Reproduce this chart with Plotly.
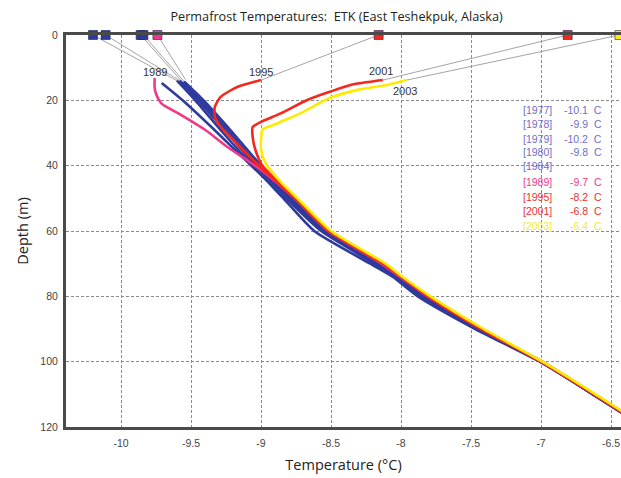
import plotly.graph_objects as go

# Borehole temperature profiles, ETK (East Teshekpuk, Alaska)
years = ["1977", "1978", "1979", "1980", "1984", "1989", "1995", "2001", "2003"]
surface_temp = [-10.11, -9.86, -10.20, -9.84, None, -9.74, -8.16, -6.81, -6.44]
year_colors = ["#2f3a9e", "#2f3a9e", "#2f3a9e", "#2f3a9e", "#2f3a9e",
               "#f0378c", "#f5281e", "#f5281e", "#ffea00"]
text_colors = ["#6f6fc8", "#6f6fc8", "#6f6fc8", "#6f6fc8", "#6f6fc8",
               "#ee3a8c", "#ee3030", "#ee3030", "#f2ea3a"]

# end points of the thin leader lines drawn from each surface marker
leader_temp = [-9.58, -9.56, -9.60, -9.55, None, -9.54, -9.00, -8.13, -7.96]
leader_depth = [14.0, 14.5, 14.0, 14.2, None, 13.6, 13.8, 13.8, 13.8]

depth_1977 = [14.0, 20, 30, 40, 50, 60, 70, 74, 80, 90, 100, 110, 116]
temp_1977 = [-9.58, -9.45, -9.24, -9.04, -8.80, -8.56, -8.18, -8.04, -7.86, -7.45, -7.00, -6.63, -6.41]

depth_1978 = [14.5, 20, 30, 40, 50, 60, 70, 74, 80, 90, 100, 110, 116]
temp_1978 = [-9.56, -9.43, -9.22, -9.02, -8.79, -8.55, -8.17, -8.03, -7.85, -7.44, -7.00, -6.62, -6.40]

depth_1979 = [14.0, 20, 30, 40, 50, 60, 70, 74, 80, 90, 100, 110, 116]
temp_1979 = [-9.60, -9.47, -9.27, -9.06, -8.84, -8.62, -8.22, -8.06, -7.88, -7.47, -7.01, -6.63, -6.41]

depth_1980 = [14.2, 20, 30, 40, 50, 60, 70, 74, 80, 90, 100, 110, 116]
temp_1980 = [-9.55, -9.41, -9.20, -9.00, -8.78, -8.54, -8.16, -8.02, -7.84, -7.44, -6.99, -6.62, -6.40]

depth_1984 = [14.7, 20, 30, 40, 50, 60, 70, 74, 80, 90, 100, 110, 116]
temp_1984 = [-9.71, -9.56, -9.31, -9.07, -8.82, -8.57, -8.19, -8.05, -7.87, -7.46, -7.00, -6.63, -6.41]

depth_1989 = [13.2, 16, 18, 21, 24, 29, 34.6, 38.3, 42, 50, 60, 70, 74, 80, 90, 100, 110, 116]
temp_1989 = [-9.76, -9.76, -9.75, -9.71, -9.59, -9.40, -9.23, -9.10, -8.98, -8.76, -8.52, -8.14, -8.01, -7.81, -7.42, -7.00, -6.62, -6.40]

depth_1995 = [13.8, 15.9, 19, 22, 25, 28, 32, 37.3, 41, 50, 60, 70, 74, 80, 90, 100, 110, 116]
temp_1995 = [-9.00, -9.17, -9.29, -9.33, -9.33, -9.29, -9.20, -9.08, -8.99, -8.76, -8.52, -8.13, -8.00, -7.81, -7.43, -7.00, -6.62, -6.40]

depth_2001 = [13.8, 15.3, 17.4, 19.9, 24, 26.6, 28.2, 31.2, 35.2, 40, 50, 60, 70, 74, 80, 90, 100, 110, 116]
temp_2001 = [-8.13, -8.36, -8.51, -8.67, -8.86, -9.00, -9.06, -9.06, -9.04, -8.99, -8.75, -8.51, -8.12, -8.00, -7.80, -7.42, -7.00, -6.62, -6.40]

depth_2003 = [13.8, 15.3, 16.8, 19.3, 24, 27.5, 29, 32, 35.2, 39, 45, 50, 60, 70, 74, 80, 90, 100, 110, 116]
temp_2003 = [-7.96, -8.10, -8.31, -8.51, -8.72, -8.91, -8.99, -9.00, -9.00, -8.97, -8.86, -8.74, -8.50, -8.11, -7.99, -7.79, -7.41, -6.99, -6.61, -6.39]

depths = [depth_1977, depth_1978, depth_1979, depth_1980, depth_1984,
          depth_1989, depth_1995, depth_2001, depth_2003]
temps = [temp_1977, temp_1978, temp_1979, temp_1980, temp_1984,
         temp_1989, temp_1995, temp_2001, temp_2003]

# year labels placed next to the top of selected profiles
label_years = ["1989", "1995", "2001", "2003"]
label_temp = [-9.76, -9.00, -8.14, -7.97]
label_depth = [11.3, 11.3, 11.0, 17.0]

x_ticks = [-10, -9.5, -9, -8.5, -8, -7.5, -7, -6.5]
y_ticks = [0, 20, 40, 60, 80, 100, 120]

fig = go.Figure()

# thin leader lines from each surface temperature marker
lead_x, lead_y = [], []
for ts, lt, ld in zip(surface_temp, leader_temp, leader_depth):
    if ts is None:
        continue
    lead_x += [ts, lt, None]
    lead_y += [0, ld, None]
fig.add_trace(go.Scatter(x=lead_x, y=lead_y, mode="lines",
                         line=dict(color="#9a9a9a", width=0.9),
                         hoverinfo="skip", showlegend=False))

# profiles, drawn oldest first so later years sit on top
for yr, d, t, c in zip(years, depths, temps, year_colors):
    fig.add_trace(go.Scatter(x=t, y=d, mode="lines", name=yr,
                             line=dict(color=c, width=2.6, shape="spline", smoothing=0.6),
                             showlegend=False))

# surface temperature markers along depth 0
sx = [ts for ts in surface_temp if ts is not None]
sc = [c for ts, c in zip(surface_temp, year_colors) if ts is not None]
fig.add_trace(go.Scatter(x=sx, y=[0] * len(sx), mode="markers", cliponaxis=False,
                         marker=dict(symbol="square", size=9, color=sc,
                                     line=dict(color="#20205a", width=0.6)),
                         showlegend=False))

for txt, tx, dy in zip(label_years, label_temp, label_depth):
    fig.add_annotation(x=tx, y=dy, text=txt, showarrow=False,
                       font=dict(family="Liberation Sans", size=11, color="#333333"))

# key listing year and surface temperature
row_depth = [23.0, 27.3, 31.7, 35.8, 40.2, 45.1, 49.6, 54.0, 58.4]
for yr, ts, c, dy in zip(years, surface_temp, text_colors, row_depth):
    fig.add_annotation(x=-7.143, y=dy, text=f"[{yr}]", showarrow=False, xanchor="left",
                       font=dict(family="Liberation Sans", size=10.5, color=c))
    if ts is not None:
        fig.add_annotation(x=-6.55, y=dy, text=f"{ts:.1f}  C", showarrow=False, xanchor="right",
                           font=dict(family="Liberation Sans", size=10.5, color=c))

grid = dict(showgrid=True, gridcolor="#8a8a8a", gridwidth=1, griddash="3px,2px")

fig.update_layout(
    width=621, height=478,
    margin=dict(l=66, r=0, t=35, b=51),
    paper_bgcolor="white", plot_bgcolor="white",
    title=dict(text="Permafrost Temperatures:  ETK (East Teshekpuk, Alaska)",
               x=0.542, xanchor="center", y=0.966, yanchor="middle",
               font=dict(family="Open Sans", size=12.7, color="#222222")),
    xaxis=dict(range=[-10.393, -6.429], tickvals=x_ticks,
               ticktext=[f"{v:g}" for v in x_ticks],
               showline=True, linecolor="#4a4a4a", linewidth=3, mirror=True,
               zeroline=False, ticks="", ticklabelstandoff=4,
               tickfont=dict(family="Liberation Sans", size=10.5, color="#444444"),
               title=dict(text="Temperature (°C)", standoff=13,
                          font=dict(family="Open Sans", size=14.5, color="#222222")),
               **grid),
    yaxis=dict(range=[120, 0], tickvals=y_ticks,
               ticktext=[str(v) for v in y_ticks],
               showline=True, linecolor="#4a4a4a", linewidth=3,
               zeroline=False, ticks="", ticklabelstandoff=3,
               tickfont=dict(family="Liberation Sans", size=10.5, color="#444444"),
               title=dict(text="Depth (m)", standoff=9,
                          font=dict(family="Open Sans", size=14.5, color="#222222")),
               **grid),
)

fig.write_html("out.html")
